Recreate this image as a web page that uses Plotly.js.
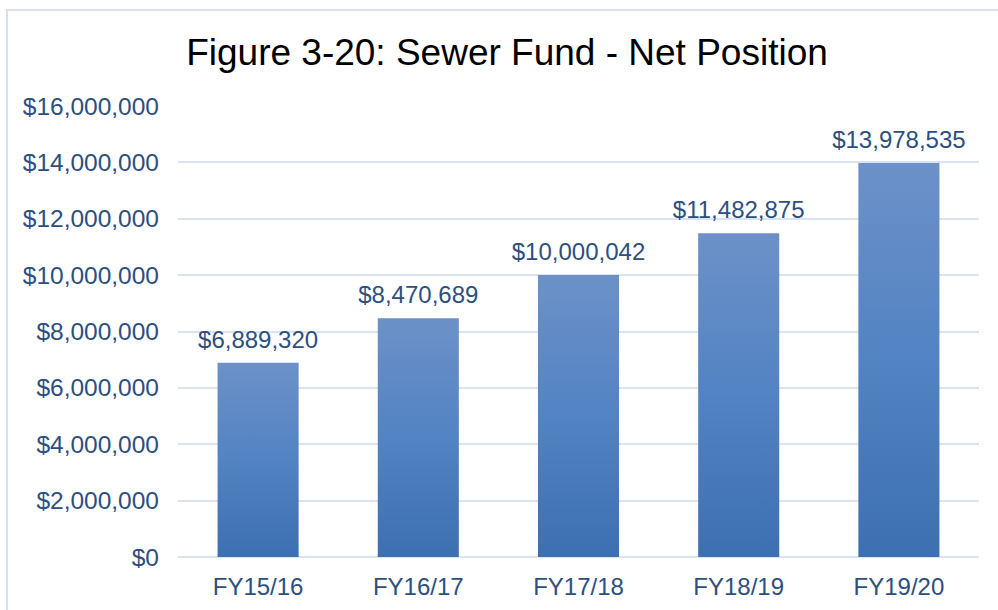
<!DOCTYPE html>
<html>
<head>
<meta charset="utf-8">
<script src="https://cdn.plot.ly/plotly-3.0.1.min.js"></script>
<style>
  html, body { margin: 0; padding: 0; background: #ffffff; }
  #wrap { position: relative; width: 998px; height: 610px; overflow: hidden; }
  #chart { width: 998px; height: 610px; }
  #frame { position: absolute; left: 6px; top: 9px; width: 1100px; height: 700px;
           border: 2px solid #d7e1ef; pointer-events: none; box-sizing: border-box; }
</style>
</head>
<body>
<div id="wrap">
  <div id="chart"></div>
  <div id="frame"></div>
</div>
<script>
const categories = ["FY15/16", "FY16/17", "FY17/18", "FY18/19", "FY19/20"];
const netPosition = [6889320, 8470689, 10000042, 11482875, 13978535];
const tickValues = [0, 2000000, 4000000, 6000000, 8000000, 10000000, 12000000, 14000000, 16000000];

const textColor = "#2c4f80";
const fmt = v => "$" + v.toLocaleString("en-US");

const trace = {
  type: "bar",
  x: categories,
  y: netPosition,
  text: netPosition.map(fmt),
  textposition: "outside",
  constraintext: "none",
  cliponaxis: false,
  textfont: { family: "Liberation Sans, Arial, sans-serif", size: 24, color: textColor },
  marker: { color: "#5282c2", line: { width: 0 } },
  hoverinfo: "skip"
};

const layout = {
  width: 998,
  height: 610,
  margin: { l: 178, r: 19, t: 106, b: 53 },
  paper_bgcolor: "#ffffff",
  plot_bgcolor: "#ffffff",
  bargap: 0.494,
  showlegend: false,
  font: { family: "Liberation Sans, Arial, sans-serif", color: textColor },
  title: {
    text: "Figure 3-20: Sewer Fund - Net Position",
    font: { family: "Liberation Sans, Arial, sans-serif", size: 37, color: "#000000" },
    x: 0.508, xanchor: "center",
    y: 1 - 52 / 610, yanchor: "middle"
  },
  xaxis: {
    type: "category",
    showgrid: false,
    showline: false,
    zeroline: false,
    ticks: "",
    ticklabelstandoff: 13,
    tickfont: { size: 24, color: textColor }
  },
  yaxis: {
    range: [0, 16000000],
    tickvals: tickValues,
    ticktext: tickValues.map(fmt),
    showgrid: true,
    gridcolor: "#d9e3f2",
    gridwidth: 2,
    zeroline: true,
    zerolinecolor: "#d9e3f2",
    zerolinewidth: 2,
    showline: false,
    ticks: "",
    ticklabelstandoff: 18,
    tickfont: { size: 24.5, color: textColor }
  }
};

Plotly.newPlot("chart", [trace], layout, { staticPlot: true, displayModeBar: false }).then(gd => {
  const svg = gd.querySelector("svg.main-svg");
  const ns = "http://www.w3.org/2000/svg";
  let defs = svg.querySelector("defs");
  if (!defs) { defs = document.createElementNS(ns, "defs"); svg.insertBefore(defs, svg.firstChild); }
  const grad = document.createElementNS(ns, "linearGradient");
  grad.setAttribute("id", "barGrad");
  grad.setAttribute("x1", "0"); grad.setAttribute("y1", "0");
  grad.setAttribute("x2", "0"); grad.setAttribute("y2", "1");
  [["0", "#6c91c8"], ["0.5", "#5283c3"], ["1", "#3d70b1"]].forEach(([o, c]) => {
    const s = document.createElementNS(ns, "stop");
    s.setAttribute("offset", o); s.setAttribute("stop-color", c);
    grad.appendChild(s);
  });
  defs.appendChild(grad);
  gd.querySelectorAll(".bars .point path").forEach(p => {
    p.style.fill = "url(#barGrad)";
  });
  gd.querySelectorAll(".bars .point text").forEach(t => {
    const tr = t.getAttribute("transform") || "";
    t.setAttribute("transform", "translate(0,-7) " + tr);
  });
});
</script>
</body>
</html>
